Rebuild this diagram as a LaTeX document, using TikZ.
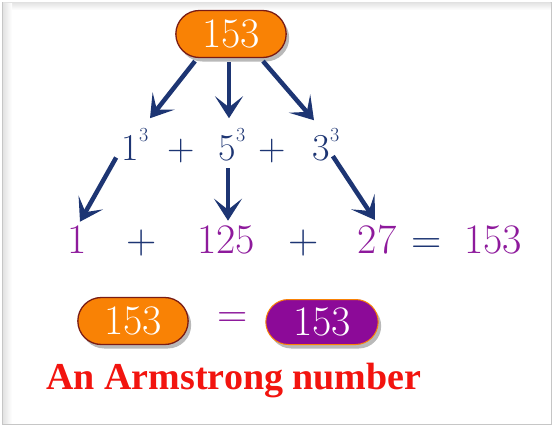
\documentclass[tikz,border=0pt]{standalone}
\usepackage{fontspec}
\newfontfamily\labelfont{Liberation Serif}[BoldFont={Liberation Serif Bold}]
\usetikzlibrary{arrows.meta, calc, positioning, shapes.misc, shadows}
\definecolor{pillorange}{HTML}{F98205}
\definecolor{pillpurple}{HTML}{8C0A98}
\definecolor{navy}{HTML}{1D3573}
\definecolor{numpurple}{HTML}{8E1A9C}
\definecolor{armred}{HTML}{F2140F}
\definecolor{rim}{HTML}{7A1C14}
\def\cube#1{#1\raisebox{19pt}{\fontsize{20}{20}\selectfont 3}}

\begin{document}
\begin{tikzpicture}[x=1pt, y=-1pt,
  pill/.style={rounded rectangle, draw=rim, line width=1.3pt, minimum width=117pt,
    minimum height=47pt, text=white, font=\fontsize{42}{42}\selectfont,
    drop shadow={shadow xshift=3pt, shadow yshift=-4pt, opacity=0.55}},
  big/.style={font=\fontsize{42}{42}\selectfont, anchor=base},
  mid/.style={font=\fontsize{38}{38}\selectfont, text=navy, anchor=base},
  arr/.style={navy, line width=4.5pt, -{Stealth[length=22pt, width=28pt, inset=11pt]}}]
  \useasboundingbox (0,0) rectangle (553,429);
  % frame
  \draw[gray!45, line width=1pt, fill=white] (2.5,2) rectangle (551,424);
  \shade[top color=gray!22, bottom color=white] (3,2.5) rectangle (550.5,10);
  \shade[left color=gray!22, right color=white] (3,3) rectangle (12,423.5);

  \node (top) [pill, fill=pillorange] at (231,34) {153};

  % cubes
  \node (one3) [mid] at (135,160) {\cube{1}};
  \node (p1) [mid] at (181,160) {+};
  \node (five3) [mid] at (232,160) {\cube{5}};
  \node (p2) [mid] at (272,160) {+};
  \node (three3) [mid] at (326,160) {\cube{3}};

  % values
  \node (one) [big, text=numpurple] at (77,253) {1};
  \node (p3) [big, text=navy] at (142,253) {+};
  \node (v125) [big, text=numpurple] at (226,253) {125};
  \node (p4) [big, text=navy] at (304,253) {+};
  \node (v27) [big, text=numpurple] at (377,253) {27};
  \node (eq1) [big, text=navy] at (427,253) {=};
  \node (sum) [big, text=numpurple] at (493,253) {153};

  \draw[arr] ($(top.south)+(-36,3)$) -- ($(one3.north)+(15,-6)$);
  \draw[arr] ($(top.south)+(-2,4)$) -- ($(five3.north)+(-3,-6)$);
  \draw[arr] ($(top.south)+(32,3)$) -- ($(three3.north)+(-12,-4)$);
  \draw[arr] ($(one3.south west)+(-2,-6)$) -- ($(one.north)+(3,0)$);
  \draw[arr] ($(five3.south)+(-4,4)$) -- ($(v125.north)+(2,-1)$);
  \draw[arr] ($(three3.south east)+(-10,-8)$) -- ($(v27.north)+(-2,-1)$);

  % result
  \node (lhs) [pill, fill=pillorange] at (133,321) {153};
  \node (eq2) [text=numpurple, font=\fontsize{42}{42}\selectfont] at (233,320) {=};
  \node (rhs) [pill, fill=pillpurple, draw=pillorange, line width=1pt,
    minimum width=119pt, minimum height=45pt] at (322,322) {153};
  \node (label) [text=armred, font=\labelfont\bfseries\fontsize{38}{38}\selectfont] at (234,380) {An Armstrong number};
\end{tikzpicture}
\end{document}
